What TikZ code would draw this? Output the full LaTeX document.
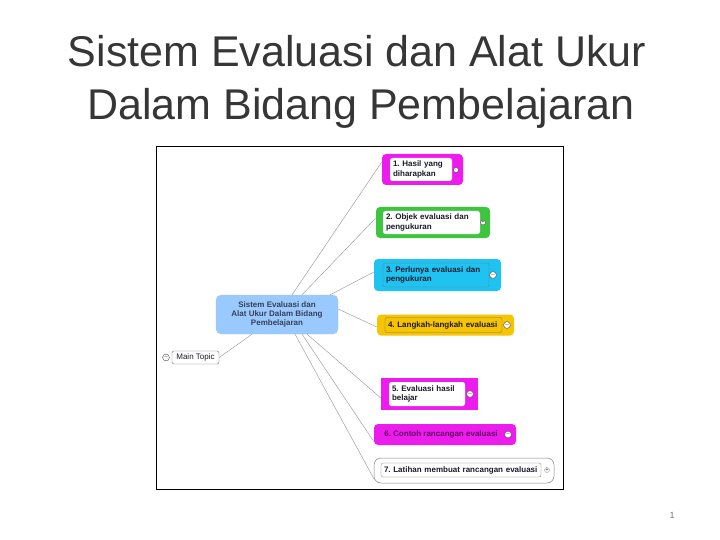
\documentclass[tikz,border=0pt]{standalone}
\usepackage{fontspec}
\setmainfont{Liberation Sans}
\usetikzlibrary{positioning}
\frenchspacing
\definecolor{titlegray}{HTML}{363636}
\definecolor{mag}{HTML}{EE1BEE}
\definecolor{grn}{HTML}{3EC43E}
\definecolor{cyn}{HTML}{1FC3F2}
\definecolor{ylw}{HTML}{F6C400}
\definecolor{cblue}{HTML}{99C9FF}
\definecolor{ntext}{HTML}{1A1A2A}
\definecolor{ctext}{HTML}{3A3F55}
\definecolor{linegray}{HTML}{9A9A9A}
\tikzset{
  titletext/.style={anchor=base, text=titlegray, font=\fontsize{43}{50}\selectfont, inner sep=0pt},
  outerbox/.style={rounded corners=4pt, inner sep=0pt},
  innerbox/.style={rounded corners=2.5pt, fill=white, align=left, inner sep=0pt, text=ntext,
    font=\bfseries\fontsize{8}{9.2}\selectfont},
  plainin/.style={rounded corners=2pt, draw=black!55, line width=0.3pt, align=left, inner sep=0pt, text=ntext,
    font=\bfseries\fontsize{8}{9.2}\selectfont},
  tog/.style={circle, draw=black!70, fill=white, line width=0.4pt, minimum size=5pt, inner sep=0pt,
    font=\fontsize{5}{5}\selectfont},
  conn/.style={draw=linegray, line width=0.45pt},
}
\begin{document}
\begin{tikzpicture}[x=1pt,y=-1pt]
\useasboundingbox (0,0) rectangle (720,540);
% title
\node[titletext] (title1) at (357,67) {Sistem Evaluasi dan Alat Ukur};
\node[titletext] (title2) at (361,120) {Dalam Bidang Pembelajaran};
% frame
\node[draw=black, line width=1.6pt, minimum width=407pt, minimum height=343pt, inner sep=0pt] (frame) at (360,318) {};
% central topic
\node[rounded corners=5pt, fill=cblue, draw=cblue!80!black!60, line width=0.3pt, minimum width=122pt, minimum height=39pt,
  align=center, text=ctext, font=\bfseries\fontsize{8}{9}\selectfont] (c) at (277,314.5)
  {Sistem Evaluasi dan\\Alat Ukur Dalam Bidang\\Pembelajaran};
% main topic
\node[draw=black!55, fill=white, rounded corners=1.5pt, line width=0.4pt, minimum width=47pt, minimum height=13pt, inner sep=0pt,
  text=ntext, font=\fontsize{8}{8}\selectfont] (mt) at (195.5,357.5) {Main Topic};
\node[tog] (tmt) at (166,357.5) {$-$};
% node 1
\node[outerbox, fill=mag, minimum width=81pt, minimum height=31pt] (o1) at (422.5,169.5) {};
\node[innerbox, minimum width=62pt, minimum height=23pt, text width=56pt] (t1) at (421,169.5) {1. Hasil yang\\diharapkan};
\node[tog] (c1) at (456,170) {$\cdot$};
% node 2
\node[outerbox, fill=grn, minimum width=114pt, minimum height=31pt] (o2) at (433,222.5) {};
\node[innerbox, minimum width=97pt, minimum height=23pt, text width=91pt] (t2) at (431.5,222.5) {2. Objek evaluasi dan\\pengukuran};
\node[tog] (c2) at (483,222.5) {+};
% node 3
\node[outerbox, fill=cyn, minimum width=127pt, minimum height=32pt] (o3) at (437.5,275) {};
\node[plainin, minimum width=106pt, minimum height=24pt, text width=100pt] (t3) at (436,275) {3. Perlunya evaluasi dan\\pengukuran};
\node[tog] (c3) at (493,275) {$-$};
% node 4
\node[outerbox, fill=ylw, minimum width=137pt, minimum height=21pt] (o4) at (445.5,325) {};
\node[plainin, minimum width=117pt, minimum height=15pt, text width=111pt] (t4) at (443.5,325) {4. Langkah-langkah evaluasi};
\node[tog] (c4) at (507,325) {$-$};
% node 5
\node[fill=mag, minimum width=97pt, minimum height=32pt, inner sep=0pt] (o5) at (429.5,394) {};
\node[innerbox, minimum width=76pt, minimum height=24pt, text width=70pt] (t5) at (427,394) {5. Evaluasi hasil\\belajar};
\node[tog] (c5) at (470,394) {$-$};
% node 6
\node[outerbox, fill=mag, minimum width=142pt, minimum height=21pt] (o6) at (445,434.5) {};
\node[rounded corners=2pt, draw=mag!70!black!80, line width=0.2pt, inner sep=0pt, minimum width=122pt, minimum height=14pt,
  text=mag!40!black, font=\bfseries\fontsize{8}{9}\selectfont] (t6) at (441,434.5) {6. Contoh rancangan evaluasi};
\node[tog] (c6) at (508,434.5) {$-$};
% node 7
\node[rounded corners=7pt, draw=black!50, line width=0.5pt, fill=white, minimum width=180pt, minimum height=25pt] (o7) at (464,470.5) {};
\node[plainin, minimum width=160pt, minimum height=14pt, text width=154pt] (t7) at (461,470) {7. Latihan membuat rancangan evaluasi};
\node[tog, draw=black!40] (c7) at (547,470) {+};
% connectors
\draw[conn] ([xshift=15pt]c.north) -- ([yshift=7.5pt]o1.west);
\draw[conn] ([xshift=25pt]c.north) -- ([yshift=4.5pt]o2.west);
\draw[conn] ([xshift=53pt]c.north) -- ([yshift=3pt]o3.west);
\draw[conn] ([yshift=5.5pt]c.east) -- ([yshift=-2pt]o4.west);
\draw[conn] ([xshift=30pt]c.south) -- ([yshift=-4pt]o5.west);
\draw[conn] ([xshift=25pt]c.south) -- ([yshift=-7pt]o6.west);
\draw[conn] ([xshift=18pt]c.south) -- ([yshift=-8pt]o7.west);
\draw[conn] ([xshift=-25pt]c.south) -- (mt.east);
% page number
\node[text=black!55, font=\fontsize{9}{10}\selectfont] (pg) at (672,515) {1};
\end{tikzpicture}
\end{document}
